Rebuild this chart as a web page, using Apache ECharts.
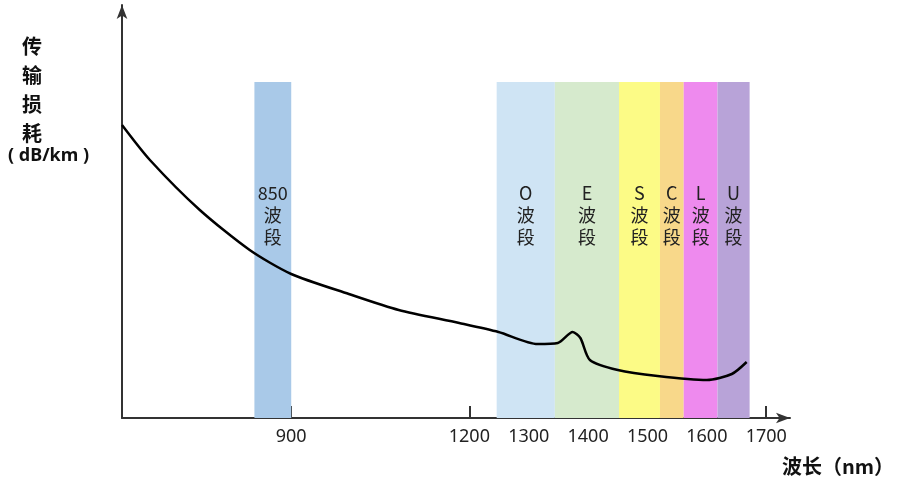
<!DOCTYPE html>
<html><head><meta charset="utf-8">
<script src="https://cdn.jsdelivr.net/npm/echarts@6/dist/echarts.min.js"></script>
<style>html,body{margin:0;background:#fff}#c{width:911px;height:495px}</style>
</head><body><div id="c"></div>
<script>
const curveNm = [615,662,746,830,900,997,1081,1183,1249,1315,1349,1374,1387,1403,1450,1517,1600,1642,1667];
const curveLoss = [293,258,208,168,144,124,108,95,86,74,75,86,80,58,48,42,38,44,56];
const bandNames = ['850\n波\n段','O\n波\n段','E\n波\n段','S\n波\n段','C\n波\n段','L\n波\n段','U\n波\n段'];
const bandStart = [838,1246,1344,1452,1521,1561,1618];
const bandEnd = [900,1344,1452,1521,1561,1618,1672];
const bandColors = ['#a9c9e8','#cfe4f4','#d6eacd','#fcfb86','#f8d88a','#ee8aee','#b8a3d8'];
const tickValues = [900,1200,1300,1400,1500,1600,1700];
const bandTop = 336;

const areas = bandNames.map((n,i)=>[
  {xAxis:bandStart[i], yAxis:0, itemStyle:{color:bandColors[i],opacity:1},
   label:{show:true, formatter:n, position:'insideTop', distance:100, color:'#222', fontSize:18, lineHeight:22, fontFamily:'Noto Sans CJK SC'}},
  {xAxis:bandEnd[i], yAxis:bandTop}
]);

const chart = echarts.init(document.getElementById('c'));
chart.setOption({
  animation:false,
  grid:{left:122,right:121,top:5,bottom:77},
  xAxis:{type:'value',min:615,max:1740,splitLine:{show:false},
    axisLine:{lineStyle:{color:'#333',width:2},symbol:['none','arrow'],symbolSize:[8,14]},
    axisTick:{show:true,customValues:tickValues,length:-12,lineStyle:{color:'#333',width:2}},
    axisLabel:{customValues:tickValues,formatter:v=>String(v),color:'#222',fontSize:18,margin:10,fontFamily:'Noto Sans'}},
  yAxis:{type:'value',min:0,max:413,splitLine:{show:false},axisTick:{show:false},axisLabel:{show:false},
    axisLine:{show:true,lineStyle:{color:'#333',width:2},symbol:['none','arrow'],symbolSize:[8,14]}},
  series:[{type:'line',data:curveNm.map((x,i)=>[x,curveLoss[i]]),smooth:0.25,showSymbol:false,
    lineStyle:{color:'#000',width:2.5},z:5,
    markArea:{silent:true,data:areas}}],
  graphic:[
    {type:'text',left:22,top:32,style:{text:'传\n输\n损\n耗',font:'bold 20px "Noto Sans CJK SC"',lineHeight:29,fill:'#111'}},
    {type:'text',left:8,top:147,style:{text:'( dB/km )',font:'bold 18px "Noto Sans"',fill:'#111'}},
    {type:'text',left:782,top:456,style:{text:'波长（nm）',font:'bold 20px "Noto Sans CJK SC"',fill:'#111'}}
  ]
});
</script></body></html>
